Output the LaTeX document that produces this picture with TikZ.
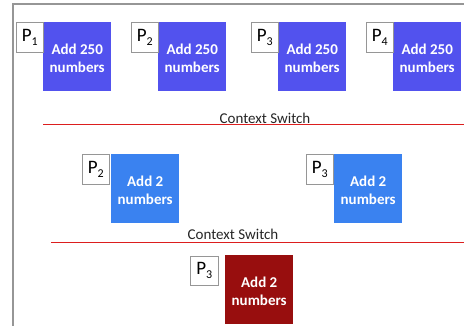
\documentclass[tikz,border=0pt]{standalone}
\usepackage{fontspec}
\setmainfont{Carlito}
\definecolor{procA}{RGB}{82,82,238}
\definecolor{procB}{RGB}{58,130,240}
\definecolor{procC}{RGB}{152,14,14}
\definecolor{frameg}{RGB}{150,150,150}
\definecolor{switchred}{RGB}{220,30,30}
\newcommand{\plabel}[1]{P\raisebox{-0.45ex}{\fontsize{12}{12}\selectfont #1}}
\newcommand{\wtext}[2]{\raisebox{-6.5pt}[0pt][0pt]{\begin{tabular}{@{}c@{}}#1\\#2\end{tabular}}}
\begin{document}
\begin{tikzpicture}[x=1pt,y=-1pt,
  work/.style={rectangle, anchor=north west, minimum width=68pt, minimum height=69pt, inner sep=0pt,
     text=white, font=\fontsize{15}{18}\selectfont\bfseries},
  wA/.style={work, fill=procA},
  wB/.style={work, fill=procB},
  wC/.style={work, fill=procC},
  plab/.style={rectangle, anchor=north west, minimum width=27pt, minimum height=30pt, inner sep=0pt,
     draw=frameg, line width=0.6pt, fill=white, font=\fontsize{19}{19}\selectfont},
  cs/.style={font=\fontsize{15}{15}\selectfont, text=black!85},
  sw/.style={draw=switchred, line width=1pt}]
\useasboundingbox (0,0) rectangle (464,326);
\fill[white] (0,0) rectangle (464,326);
\draw[frameg, line width=1.4pt] (13,326) -- (13,4) -- (464,4);
% row 1
\node[wA] (b1) at (43,22) {\wtext{Add 250}{numbers}};
\node[plab] (l1) at (16,22) {\plabel{1}};
\node[wA] (b2) at (158,22) {\wtext{Add 250}{numbers}};
\node[plab] (l2) at (131,22) {\plabel{2}};
\node[wA] (b3) at (278,22) {\wtext{Add 250}{numbers}};
\node[plab] (l3) at (251,22) {\plabel{3}};
\node[wA] (b4) at (393,22) {\wtext{Add 250}{numbers}};
\node[plab] (l4) at (366,22) {\plabel{4}};
% switch 1
\node[cs] (cs1) at (265,118) {Context Switch};
\coordinate (s1a) at (43,125);
\coordinate (s1b) at (464,125);
\draw[sw] (s1a) -- (s1b);
% row 2
\node[wB] (b5) at (111,154) {\wtext{Add 2}{numbers}};
\node[plab] (l5) at (82,154) {\plabel{2}};
\node[wB] (b6) at (334,154) {\wtext{Add 2}{numbers}};
\node[plab] (l6) at (306,154) {\plabel{3}};
% switch 2
\node[cs] (cs2) at (233,234) {Context Switch};
\coordinate (s2a) at (51,243);
\coordinate (s2b) at (464,243);
\draw[sw] (s2a) -- (s2b);
% row 3
\node[wC] (b7) at (225,255) {\wtext{Add 2}{numbers}};
\node[plab, minimum width=28pt, minimum height=29pt] (l7) at (190,256) {\plabel{3}};
\end{tikzpicture}
\end{document}
